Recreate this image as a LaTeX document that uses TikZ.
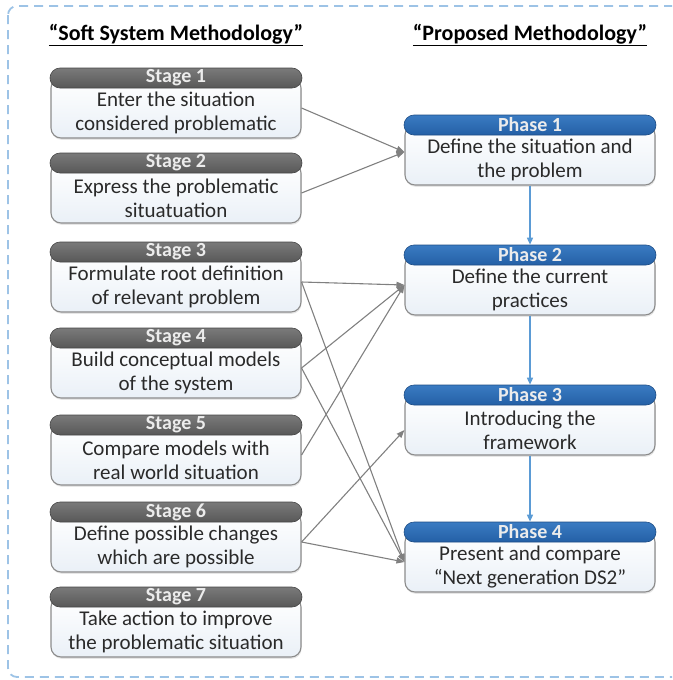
\documentclass[tikz,border=0pt]{standalone}
\usepackage{fontspec}
\setmainfont{Carlito}
\usetikzlibrary{arrows.meta,shadows}
\definecolor{hdrtop}{HTML}{7A7A7A}
\definecolor{hdrbot}{HTML}{585858}
\definecolor{phtop}{HTML}{3A7BC2}
\definecolor{phbot}{HTML}{2460A6}
\definecolor{bodybot}{HTML}{EAF0F7}
\definecolor{bordergray}{HTML}{8C8C8C}
\definecolor{txt}{HTML}{2A2A2A}
\definecolor{hdrtxt}{HTML}{ECECEC}
\definecolor{arrowgray}{HTML}{808080}
\definecolor{arrowblue}{HTML}{5B9BD5}
\definecolor{outerblue}{HTML}{9DC3E6}
\begin{document}
\begin{tikzpicture}[x=1pt,y=-1pt,
  outer/.style={draw=outerblue, line width=1.8pt, dash pattern=on 9pt off 6pt, rounded corners=9pt},
  bodybox/.style={draw=bordergray, line width=1.1pt, rounded corners=10pt, minimum width=250pt, minimum height=60pt, inner sep=0pt, top color=white, bottom color=bodybot, drop shadow={opacity=0.2, shadow xshift=0.6pt, shadow yshift=-1.8pt}},
  hdrbox/.style={rounded corners=10pt, minimum width=252pt, minimum height=20pt, inner sep=0pt, text=hdrtxt, font=\fontsize{20}{20}\selectfont\bfseries},
  stagehdr/.style={hdrbox, top color=hdrtop, bottom color=hdrbot, draw=hdrbot!80!black, line width=0.6pt},
  phasehdr/.style={hdrbox, top color=phtop, bottom color=phbot, draw=phbot!80!black, line width=0.6pt},
  btext/.style={align=center, font=\fontsize{21}{24}\selectfont, text=txt, inner sep=0pt},
  title/.style={font=\fontsize{22}{22}\selectfont\bfseries, text=black, inner sep=0pt},
  garrow/.style={draw=arrowgray, line width=1.1pt, -{Triangle[length=8pt,width=6pt]}},
  barrow/.style={draw=arrowblue, line width=1.4pt, -{Triangle[length=7pt,width=6pt]}}
]
\useasboundingbox (0,0) rectangle (672,680);
\begin{scope}
  \clip (0,0) rectangle (672,680);
  \draw[outer] (8,6) rectangle (700,677);
\end{scope}

% titles
\node[title] (t1) at (176,35) {\underline{“Soft System Methodology”}};
\node[title] (t2) at (530,35) {\underline{“Proposed Methodology”}};

% stages
\node[bodybox] (s1) at (176,108) {};
\node[stagehdr] (s1h) at (176,78) {Stage 1};
\node[btext] (s1t) at (176,113) {Enter the situation\\considered problematic};

\node[bodybox] (s2) at (176,193) {};
\node[stagehdr] (s2h) at (176,163) {Stage 2};
\node[btext] (s2t) at (176,198) {Express the problematic\\situatuation};

\node[bodybox] (s3) at (176,282) {};
\node[stagehdr] (s3h) at (176,252) {Stage 3};
\node[btext] (s3t) at (176,287) {Formulate root definition\\of relevant problem};

\node[bodybox] (s4) at (176,368) {};
\node[stagehdr] (s4h) at (176,338) {Stage 4};
\node[btext] (s4t) at (176,373) {Build conceptual models\\of the system};

\node[bodybox] (s5) at (176,455) {};
\node[stagehdr] (s5h) at (176,425) {Stage 5};
\node[btext] (s5t) at (176,460) {Compare models with\\real world situation};

\node[bodybox] (s6) at (176,542) {};
\node[stagehdr] (s6h) at (176,512) {Stage 6};
\node[btext] (s6t) at (176,547) {Define possible changes\\which are possible};

\node[bodybox] (s7) at (176,627) {};
\node[stagehdr] (s7h) at (176,597) {Stage 7};
\node[btext] (s7t) at (176,632) {Take action to improve\\the problematic situation};

% phases
\node[bodybox] (p1) at (530,155) {};
\node[phasehdr] (p1h) at (530,125) {Phase 1};
\node[btext] (p1t) at (530,160) {Define the situation and\\the problem};

\node[bodybox] (p2) at (530,285) {};
\node[phasehdr] (p2h) at (530,255) {Phase 2};
\node[btext] (p2t) at (530,290) {Define the current\\practices};

\node[bodybox] (p3) at (530,425) {};
\node[phasehdr] (p3h) at (530,395) {Phase 3};
\node[btext] (p3t) at (530,430) {Introducing the\\framework};

\node[bodybox] (p4) at (530,562) {};
\node[phasehdr] (p4h) at (530,532) {Phase 4};
\node[btext] (p4t) at (530,567) {Present and compare\\“Next generation DS2”};

% blue flow arrows
\draw[barrow] (p1.south) -- (p2h.north);
\draw[barrow] (p2.south) -- (p3h.north);
\draw[barrow] (p3.south) -- (p4h.north);

% gray mapping arrows
\draw[garrow] (s1.east) -- ([yshift=3pt]p1.west);
\draw[garrow] (s2.east) -- ([yshift=3pt]p1.west);
\draw[garrow] (s3.east) -- (p2.west);
\draw[garrow] (s3.east) -- (p4.west);
\draw[garrow] (s4.east) -- (p2.west);
\draw[garrow] (s4.east) -- (p4.west);
\draw[garrow] (s5.east) -- (p2.west);
\draw[garrow] (s6.east) -- ([yshift=-5pt]p3.west);
\draw[garrow] (s6.east) -- (p4.west);
\end{tikzpicture}
\end{document}
